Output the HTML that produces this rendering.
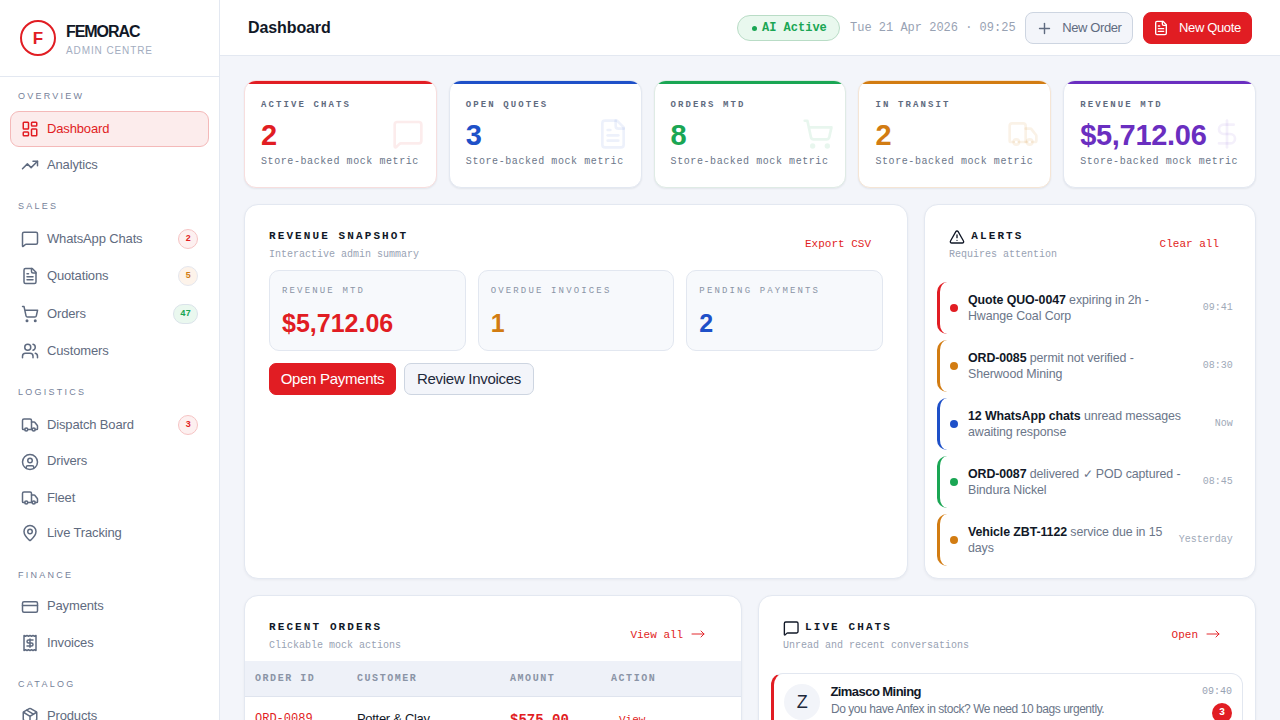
<!DOCTYPE html>
<html><head><meta charset="utf-8">
<style>
*{box-sizing:border-box;margin:0;padding:0}
html,body{width:1280px;height:720px;overflow:hidden}
body{background:#f3f5fa;font-family:"Liberation Sans",sans-serif;color:#0f172a;position:relative}
.mono{font-family:"Liberation Mono",monospace}
svg.i{fill:none;stroke:currentColor;stroke-width:2;stroke-linecap:round;stroke-linejoin:round;display:block}
.abs{position:absolute}

/* sidebar */
#sb{position:absolute;left:0;top:0;width:220px;height:720px;background:#fff;border-right:1px solid #e3e8f1}
#sb .brand{position:absolute;left:0;top:0;width:219px;height:77px;border-bottom:1px solid #e3e8f1}
#sb .logo{position:absolute;left:20px;top:20px;width:36px;height:36px;border:2px solid #e11d23;border-radius:50%;color:#e11d23;font-weight:700;font-size:17px;text-align:center;line-height:34px}
#sb .bname{position:absolute;left:66px;top:22.5px;font-size:16px;line-height:18px;font-weight:700;letter-spacing:-1.05px;color:#111827}
#sb .bsub{position:absolute;left:66px;top:44.8px;font-size:10px;letter-spacing:0.9px;color:#a3adbf}
.sec{position:absolute;left:18px;font-size:9px;font-weight:400;letter-spacing:2.25px;color:#76829a}
.nav{position:absolute;left:10px;width:199px;height:36px;border-radius:9px;color:#5f6b80;font-size:13px;letter-spacing:-0.15px}
.nav svg{position:absolute;left:11px;top:9px;width:18px;height:18px}
.nav span.t{position:absolute;left:37px;top:10px;line-height:16px}
.nav.act{background:#fcecec;border:1px solid #f4b9b9;color:#e11d23}
.nav.act svg{left:10px;top:8px}
.nav.act span.t{left:36px;top:9px}
.badge{position:absolute;right:10.7px;top:8px;height:20px;min-width:20px;padding:0 6.5px;font-style:normal;border-radius:10px;font-family:"Liberation Mono",monospace;font-weight:700;font-size:9px;line-height:18px;text-align:center;border:1px solid}
.b-red{color:#e11d23;background:#fdf0f0;border-color:#f6c4c4}
.b-amb{color:#d27c12;background:#fdf3ea;border-color:#e5e7ee}
.b-grn{color:#1aa654;background:#eaf8ef;border-color:#dbe3ea}

/* header */
#hd{position:absolute;left:220px;top:0;width:1060px;height:56px;background:#fff;border-bottom:1px solid #e3e8f1}
#hd .ttl{position:absolute;left:28px;top:18.5px;font-size:16px;font-weight:700;letter-spacing:-0.1px;color:#111827}
.pill{position:absolute;left:517px;top:15px;width:102.5px;height:26px;border-radius:13px;background:#e9f8ee;border:1px solid #b9dcc6;color:#1aa654;font-family:"Liberation Mono",monospace;font-weight:700;font-size:12px;line-height:23px}
.pill i{position:absolute;left:13.5px;top:9.5px;width:5.5px;height:5.5px;font-style:normal;border-radius:50%;background:#1aa654}
.pill span{position:absolute;left:24px;top:1px}
.date{position:absolute;left:630px;top:19.5px;font-family:"Liberation Mono",monospace;font-size:12px;color:#98a2b3;line-height:16px}
.btn{position:absolute;height:32px;border-radius:8px;font-size:13px;line-height:30px}
.btn svg{position:absolute}
.btn span{position:absolute}
.btn-o{left:805px;top:12px;width:108px;background:#f3f5fa;border:1px solid #cdd5e1;color:#5f6b80}
.btn-r{left:923px;top:12px;width:109px;background:#e11d23;border:1px solid #e11d23;color:#fff}

/* kpi */
.kpi{position:absolute;top:80px;width:192.8px;height:108px;background:#fff;border:1px solid #e3e8f1;border-radius:12px;overflow:hidden;box-shadow:0 1px 2px rgba(15,23,42,.07)}
.kpi .bar{position:absolute;left:0;right:0;top:0;height:3px}
.kpi .lb{position:absolute;left:16px;top:17.5px;font-family:"Liberation Mono",monospace;font-weight:700;font-size:9px;line-height:12px;letter-spacing:2.1px;color:#5f6b80;white-space:nowrap}
.kpi .vl{position:absolute;left:16px;top:38.2px;font-size:29px;font-weight:700;line-height:32px;white-space:nowrap}
.kpi .ds{position:absolute;left:16px;top:74.3px;font-family:"Liberation Mono",monospace;font-size:10px;line-height:14px;letter-spacing:0.58px;color:#6b7689;white-space:nowrap}
.kpi svg{position:absolute;right:11.5px;top:37px;width:32px;height:32px}
/* panel */
.pnl{position:absolute;background:#fff;border:1px solid #e3e8f1;border-radius:14px;box-shadow:0 1px 3px rgba(15,23,42,.05);overflow:hidden}
.ptl{position:absolute;font-family:"Liberation Mono",monospace;font-weight:700;font-size:11px;line-height:14px;letter-spacing:2.1px;color:#111827;white-space:nowrap}
.psub{position:absolute;font-family:"Liberation Mono",monospace;font-size:10px;line-height:14px;color:#98a2b3;white-space:nowrap}
.plink{position:absolute;font-family:"Liberation Mono",monospace;font-size:11px;line-height:14px;color:#e11d23;white-space:nowrap}
.stat{position:absolute;top:65px;width:196.67px;height:81px;border:1px solid #e2e7f0;border-radius:10px;background-color:#f7f9fc;background-image:radial-gradient(rgba(148,163,184,.22) 0.5px,transparent 0.7px);background-size:2px 2px}
.stat .lb{position:absolute;left:12px;top:13.5px;font-family:"Liberation Mono",monospace;font-size:9px;line-height:12px;letter-spacing:2.15px;color:#8a94a6;white-space:nowrap}
.stat .vl{position:absolute;left:12px;top:37.5px;font-size:25px;font-weight:700;line-height:28px;white-space:nowrap}
.pb{position:absolute;top:158px;height:32px;border-radius:7px;font-size:15px;line-height:30px;text-align:center;letter-spacing:-0.3px}
.alrt{position:absolute;left:12px;width:306px;height:52px;border-left:3px solid;border-radius:10px}
.alrt i{position:absolute;left:10px;top:22px;font-style:normal;width:8px;height:8px;border-radius:50%}
.alrt .tx{position:absolute;left:28px;top:10px;font-size:12.4px;line-height:16px;color:#6b7689;white-space:nowrap;letter-spacing:-0.1px}
.alrt .tx b{color:#111827}
.alrt .tm{position:absolute;right:10.2px;top:19px;font-family:"Liberation Mono",monospace;font-size:10px;line-height:14px;color:#a0a9b8;white-space:nowrap}
.th{position:absolute;font-family:"Liberation Mono",monospace;font-weight:700;font-size:10px;line-height:12px;letter-spacing:1.55px;color:#8a94a6;white-space:nowrap}
</style></head>
<body>

<div id="sb">
  <div class="brand">
    <div class="logo">F</div>
    <div class="bname">FEMORAC</div>
    <div class="bsub">ADMIN CENTRE</div>
  </div>
<div class="sec" style="top:89.6px;line-height:12px">OVERVIEW</div>
<div class="nav act" style="top:110.8px"><svg class="i" viewBox="0 0 24 24"><rect width="7" height="9" x="3" y="3" rx="1"/><rect width="7" height="5" x="14" y="3" rx="1"/><rect width="7" height="9" x="14" y="12" rx="1"/><rect width="7" height="5" x="3" y="16" rx="1"/></svg><span class="t">Dashboard</span></div>
<div class="nav" style="top:146.5px"><svg class="i" viewBox="0 0 24 24"><polyline points="22 7 13.5 15.5 8.5 10.5 2 17"/><polyline points="16 7 22 7 22 13"/></svg><span class="t">Analytics</span></div>
<div class="sec" style="top:199.6px;line-height:12px">SALES</div>
<div class="nav" style="top:220.5px"><svg class="i" viewBox="0 0 24 24"><path d="M22 17a2 2 0 0 1-2 2H6.828a2 2 0 0 0-1.414.586l-2.202 2.202A.71.71 0 0 1 2 21.286V5a2 2 0 0 1 2-2h16a2 2 0 0 1 2 2z"/></svg><span class="t">WhatsApp Chats</span><i class="badge b-red">2</i></div>
<div class="nav" style="top:257.5px"><svg class="i" viewBox="0 0 24 24"><path d="M15 2H6a2 2 0 0 0-2 2v16a2 2 0 0 0 2 2h12a2 2 0 0 0 2-2V7Z"/><path d="M14 2v4a2 2 0 0 0 2 2h4"/><path d="M10 9H8"/><path d="M16 13H8"/><path d="M16 17H8"/></svg><span class="t">Quotations</span><i class="badge b-amb">5</i></div>
<div class="nav" style="top:295.5px"><svg class="i" viewBox="0 0 24 24"><circle cx="8" cy="21" r="1"/><circle cx="19" cy="21" r="1"/><path d="M2.05 2.05h2l2.66 12.42a2 2 0 0 0 2 1.58h9.78a2 2 0 0 0 1.95-1.57l1.65-7.43H5.12"/></svg><span class="t">Orders</span><i class="badge b-grn">47</i></div>
<div class="nav" style="top:332.5px"><svg class="i" viewBox="0 0 24 24"><path d="M16 21v-2a4 4 0 0 0-4-4H6a4 4 0 0 0-4 4v2"/><circle cx="9" cy="7" r="4"/><path d="M22 21v-2a4 4 0 0 0-3-3.87"/><path d="M16 3.13a4 4 0 0 1 0 7.75"/></svg><span class="t">Customers</span></div>
<div class="sec" style="top:385.75px;line-height:12px">LOGISTICS</div>
<div class="nav" style="top:406.5px"><svg class="i" viewBox="0 0 24 24"><path d="M14 18V6a2 2 0 0 0-2-2H4a2 2 0 0 0-2 2v11a1 1 0 0 0 1 1h2"/><path d="M15 18H9"/><path d="M19 18h2a1 1 0 0 0 1-1v-3.65a1 1 0 0 0-.22-.624l-3.48-4.35A1 1 0 0 0 17.52 8H14"/><circle cx="17" cy="18" r="2"/><circle cx="7" cy="18" r="2"/></svg><span class="t">Dispatch Board</span><i class="badge b-red">3</i></div>
<div class="nav" style="top:443.2px"><svg class="i" viewBox="0 0 24 24" style="top:10px"><circle cx="12" cy="12" r="10"/><circle cx="12" cy="10" r="3"/><path d="M7 20.662V19a2 2 0 0 1 2-2h6a2 2 0 0 1 2 2v1.662"/></svg><span class="t">Drivers</span></div>
<div class="nav" style="top:479.5px"><svg class="i" viewBox="0 0 24 24"><path d="M14 18V6a2 2 0 0 0-2-2H4a2 2 0 0 0-2 2v11a1 1 0 0 0 1 1h2"/><path d="M15 18H9"/><path d="M19 18h2a1 1 0 0 0 1-1v-3.65a1 1 0 0 0-.22-.624l-3.48-4.35A1 1 0 0 0 17.52 8H14"/><circle cx="17" cy="18" r="2"/><circle cx="7" cy="18" r="2"/></svg><span class="t">Fleet</span></div>
<div class="nav" style="top:515px"><svg class="i" viewBox="0 0 24 24"><path d="M20 10c0 4.993-5.539 10.193-7.399 11.799a1 1 0 0 1-1.202 0C9.539 20.193 4 14.993 4 10a8 8 0 0 1 16 0"/><circle cx="12" cy="10" r="3"/></svg><span class="t">Live Tracking</span></div>
<div class="sec" style="top:568.75px;line-height:12px">FINANCE</div>
<div class="nav" style="top:588.2px"><svg class="i" viewBox="0 0 24 24" style="top:10px"><rect width="20" height="14" x="2" y="5" rx="2"/><line x1="2" x2="22" y1="10" y2="10"/></svg><span class="t">Payments</span></div>
<div class="nav" style="top:624.5px"><svg class="i" viewBox="0 0 24 24"><path d="M4 2v20l2-1 2 1 2-1 2 1 2-1 2 1 2-1 2 1V2l-2 1-2-1-2 1-2-1-2 1-2-1-2 1Z"/><path d="M16 8h-6a2 2 0 1 0 0 4h4a2 2 0 1 1 0 4H8"/><path d="M12 17.5v-11"/></svg><span class="t">Invoices</span></div>
<div class="sec" style="top:677.75px;line-height:12px">CATALOG</div>
<div class="nav" style="top:698.2px"><svg class="i" viewBox="0 0 24 24"><path d="M11 21.73a2 2 0 0 0 2 0l7-4A2 2 0 0 0 21 16V8a2 2 0 0 0-1-1.73l-7-4a2 2 0 0 0-2 0l-7 4A2 2 0 0 0 3 8v8a2 2 0 0 0 1 1.73z"/><path d="M12 22V12"/><path d="m3.3 7 7.703 4.734a2 2 0 0 0 1.994 0L20.7 7"/><path d="m7.5 4.27 9 5.15"/></svg><span class="t">Products</span></div>
</div>

<div id="hd">
  <div class="ttl">Dashboard</div>
  <div class="pill"><i></i><span>AI Active</span></div>
  <div class="date">Tue 21 Apr 2026 · 09:25</div>
  <div class="btn btn-o"><svg class="i" viewBox="0 0 24 24" style="left:9.7px;top:6.5px;width:17px;height:17px"><path d="M5 12h14"/><path d="M12 5v14"/></svg><span style="left:36.3px;top:0;letter-spacing:-0.4px">New Order</span></div>
  <div class="btn btn-r"><svg class="i" viewBox="0 0 24 24" style="left:9px;top:7.4px;width:16px;height:16px"><path d="M15 2H6a2 2 0 0 0-2 2v16a2 2 0 0 0 2 2h12a2 2 0 0 0 2-2V7Z"/><path d="M14 2v4a2 2 0 0 0 2 2h4"/><path d="M10 9H8"/><path d="M16 13H8"/><path d="M16 17H8"/></svg><span style="left:35px;top:0;letter-spacing:-0.35px">New Quote</span></div>
</div>

<div id="main">
<div class="kpi" style="left:244.0px;border-color:#f7dede"><div class="bar" style="background:#e11d23"></div><div class="lb">ACTIVE CHATS</div><div class="vl" style="color:#e11d23">2</div><div class="ds">Store-backed mock metric</div><svg class="i" viewBox="0 0 24 24" style="color:rgba(225,29,35,.085)" ><path d="M22 17a2 2 0 0 1-2 2H6.828a2 2 0 0 0-1.414.586l-2.202 2.202A.71.71 0 0 1 2 21.286V5a2 2 0 0 1 2-2h16a2 2 0 0 1 2 2z"/></svg></div>
<div class="kpi" style="left:448.8px;border-color:#e3e8f1"><div class="bar" style="background:#1e50c8"></div><div class="lb">OPEN QUOTES</div><div class="vl" style="color:#1e50c8">3</div><div class="ds">Store-backed mock metric</div><svg class="i" viewBox="0 0 24 24" style="color:rgba(30,80,200,.08)" ><path d="M15 2H6a2 2 0 0 0-2 2v16a2 2 0 0 0 2 2h12a2 2 0 0 0 2-2V7Z"/><path d="M14 2v4a2 2 0 0 0 2 2h4"/><path d="M10 9H8"/><path d="M16 13H8"/><path d="M16 17H8"/></svg></div>
<div class="kpi" style="left:653.6px;border-color:#dfebe5"><div class="bar" style="background:#1aa654"></div><div class="lb">ORDERS MTD</div><div class="vl" style="color:#1aa654">8</div><div class="ds">Store-backed mock metric</div><svg class="i" viewBox="0 0 24 24" style="color:rgba(26,166,84,.10)" ><circle cx="8" cy="21" r="1"/><circle cx="19" cy="21" r="1"/><path d="M2.05 2.05h2l2.66 12.42a2 2 0 0 0 2 1.58h9.78a2 2 0 0 0 1.95-1.57l1.65-7.43H5.12"/></svg></div>
<div class="kpi" style="left:858.4px;border-color:#f5e5d5"><div class="bar" style="background:#d27c12"></div><div class="lb">IN TRANSIT</div><div class="vl" style="color:#d27c12">2</div><div class="ds">Store-backed mock metric</div><svg class="i" viewBox="0 0 24 24" style="color:rgba(210,124,18,.10)" ><path d="M14 18V6a2 2 0 0 0-2-2H4a2 2 0 0 0-2 2v11a1 1 0 0 0 1 1h2"/><path d="M15 18H9"/><path d="M19 18h2a1 1 0 0 0 1-1v-3.65a1 1 0 0 0-.22-.624l-3.48-4.35A1 1 0 0 0 17.52 8H14"/><circle cx="17" cy="18" r="2"/><circle cx="7" cy="18" r="2"/></svg></div>
<div class="kpi" style="left:1063.2px;border-color:#e3e8f1"><div class="bar" style="background:#6a2ec0"></div><div class="lb">REVENUE MTD</div><div class="vl" style="color:#6a2ec0;letter-spacing:-0.3px">$5,712.06</div><div class="ds">Store-backed mock metric</div><svg class="i" viewBox="0 0 24 24" style="color:rgba(106,46,192,.07)" ><line x1="12" x2="12" y1="2" y2="22"/><path d="M17 5H9.5a3.5 3.5 0 0 0 0 7h5a3.5 3.5 0 0 1 0 7H6"/></svg></div>
<div class="pnl" style="left:244px;top:204px;width:664px;height:375px">
 <div class="ptl" style="left:24px;top:24.3px">REVENUE SNAPSHOT</div>
 <div class="psub" style="left:24px;top:43.3px">Interactive admin summary</div>
 <div class="plink" style="left:560px;top:31.8px">Export CSV</div>
 <div class="stat" style="left:24px"><div class="lb">REVENUE MTD</div><div class="vl" style="color:#e11d23">$5,712.06</div></div>
 <div class="stat" style="left:232.67px"><div class="lb">OVERDUE INVOICES</div><div class="vl" style="color:#d27c12">1</div></div>
 <div class="stat" style="left:441.33px"><div class="lb">PENDING PAYMENTS</div><div class="vl" style="color:#1e50c8">2</div></div>
 <div class="pb" style="left:24px;width:127px;background:#e11d23;color:#fff;border:1px solid #e11d23">Open Payments</div>
 <div class="pb" style="left:159px;width:130px;background:#f3f5fa;color:#1e293b;border:1px solid #cdd5e1">Review Invoices</div>
</div>
<div class="pnl" style="left:924px;top:204px;width:332px;height:375px">
 <svg class="i" viewBox="0 0 24 24" style="position:absolute;left:23.7px;top:23.9px;width:16px;height:16px;color:#111827" ><path d="m21.73 18-8-14a2 2 0 0 0-3.48 0l-8 14A2 2 0 0 0 4 21h16a2 2 0 0 0 1.73-3"/><path d="M12 9v4"/><path d="M12 17h.01"/></svg>
 <div class="ptl" style="left:46.3px;top:23.5px">ALERTS</div>
 <div class="psub" style="left:24px;top:42.9px">Requires attention</div>
 <div class="plink" style="left:234.6px;top:32.3px">Clear all</div>
 <div class="alrt" style="top:77px;border-color:#e11d23"><i style="background:#e11d23"></i><div class="tx"><b>Quote QUO-0047</b> expiring in 2h -<br>Hwange Coal Corp</div><div class="tm">09:41</div></div>
 <div class="alrt" style="top:135px;border-color:#d27c12"><i style="background:#d27c12"></i><div class="tx"><b>ORD-0085</b> permit not verified -<br>Sherwood Mining</div><div class="tm">08:30</div></div>
 <div class="alrt" style="top:193px;border-color:#1e50c8"><i style="background:#1e50c8"></i><div class="tx"><b>12 WhatsApp chats</b> unread messages<br>awaiting response</div><div class="tm">Now</div></div>
 <div class="alrt" style="top:251px;border-color:#1aa654"><i style="background:#1aa654"></i><div class="tx"><b>ORD-0087</b> delivered ✓ POD captured -<br>Bindura Nickel</div><div class="tm">08:45</div></div>
 <div class="alrt" style="top:309px;border-color:#d27c12"><i style="background:#d27c12"></i><div class="tx"><b>Vehicle ZBT-1122</b> service due in 15<br>days</div><div class="tm">Yesterday</div></div>
</div>
<div class="pnl" style="left:244px;top:595px;width:498px;height:200px">
 <div class="ptl" style="left:24px;top:24.3px">RECENT ORDERS</div>
 <div class="psub" style="left:24px;top:43.4px">Clickable mock actions</div>
 <div class="plink" style="left:385.4px;top:31.9px">View all</div><svg viewBox="0 0 14 8" style="position:absolute;left:445.7px;top:34.3px;width:14px;height:8px;fill:none;stroke:#e11d23;stroke-width:0.95;stroke-linecap:round;stroke-linejoin:round"><path d="M1 4h12M10 1l3 3-3 3"/></svg>
 <div style="position:absolute;left:0;top:65px;width:496px;height:36px;background:#eef1f8;border-bottom:1px solid #dfe4ee"></div>
 <div class="th" style="left:10px;top:76.8px">ORDER ID</div>
 <div class="th" style="left:112px;top:76.8px">CUSTOMER</div>
 <div class="th" style="left:265px;top:76.8px">AMOUNT</div>
 <div class="th" style="left:366px;top:76.8px">ACTION</div>
 <div style="position:absolute;left:10px;top:115.6px;font-family:'Liberation Mono',monospace;font-size:12px;line-height:14px;color:#e11d23">ORD-0089</div>
 <div style="position:absolute;left:112px;top:115px;font-size:13px;line-height:16px;color:#111827;letter-spacing:-0.3px">Potter &amp; Clay</div>
 <div style="position:absolute;left:265px;top:115.6px;font-family:'Liberation Mono',monospace;font-weight:700;font-size:14px;line-height:16px;color:#e11d23">$575.00</div>
 <div style="position:absolute;left:374px;top:117.2px;font-family:'Liberation Mono',monospace;font-size:11px;line-height:14px;color:#e11d23">View</div>
</div>
<div class="pnl" style="left:758px;top:595px;width:498px;height:200px">
 <svg class="i" viewBox="0 0 24 24" style="position:absolute;left:23.7px;top:23.7px;width:16.4px;height:16.4px;color:#111827" ><path d="M22 17a2 2 0 0 1-2 2H6.828a2 2 0 0 0-1.414.586l-2.202 2.202A.71.71 0 0 1 2 21.286V5a2 2 0 0 1 2-2h16a2 2 0 0 1 2 2z"/></svg>
 <div class="ptl" style="left:46px;top:24.3px">LIVE CHATS</div>
 <div class="psub" style="left:24px;top:43.4px">Unread and recent conversations</div>
 <div class="plink" style="left:412.6px;top:32.1px">Open</div><svg viewBox="0 0 14 8" style="position:absolute;left:446.7px;top:34.3px;width:14px;height:8px;fill:none;stroke:#e11d23;stroke-width:0.95;stroke-linecap:round;stroke-linejoin:round"><path d="M1 4h12M10 1l3 3-3 3"/></svg>
 <div style="position:absolute;left:12px;top:77px;width:472px;height:120px;border:1px solid #e2e7f0;border-left:3px solid #e11d23;border-radius:12px"></div>
 <div style="position:absolute;left:25.3px;top:87.8px;width:36px;height:36px;border-radius:50%;background:#f2f4f9;font-size:18px;line-height:36px;text-align:center;color:#1e293b">Z</div>
 <div style="position:absolute;left:71.4px;top:87.5px;font-size:13px;font-weight:700;line-height:16px;color:#111827;letter-spacing:-0.55px">Zimasco Mining</div>
 <div style="position:absolute;left:72px;top:105px;font-size:12px;line-height:16px;color:#6b7689;letter-spacing:-0.45px">Do you have Anfex in stock? We need 10 bags urgently.</div>
 <div style="position:absolute;left:443px;top:89.2px;font-family:'Liberation Mono',monospace;font-size:10px;line-height:14px;color:#98a2b3">09:40</div>
 <div style="position:absolute;left:453px;top:107px;width:20px;height:20px;border-radius:50%;background:#e11d23;color:#fff;font-family:'Liberation Mono',monospace;font-weight:700;font-size:10px;line-height:20px;text-align:center">3</div>
</div>
</div>
</body></html>
